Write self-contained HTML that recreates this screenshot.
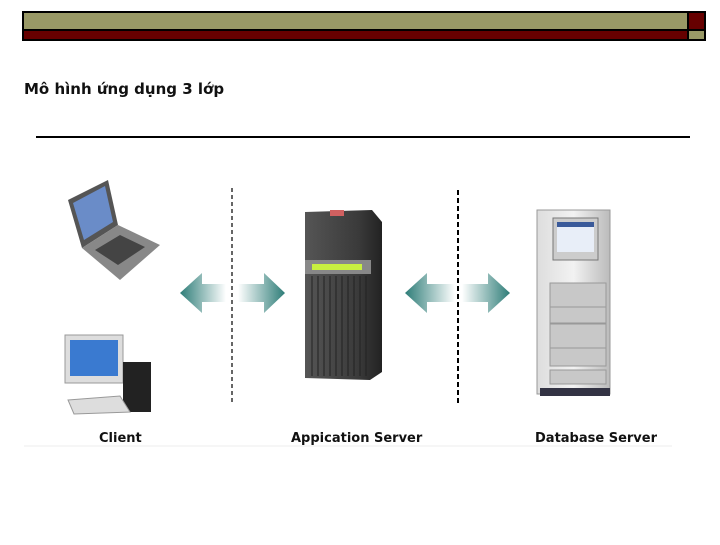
<!DOCTYPE html>
<html><head><meta charset="utf-8"><style>
body{margin:0;width:720px;height:540px;background:#fff;overflow:hidden}
text{font-family:"DejaVu Sans","Liberation Sans",sans-serif;font-weight:bold}
</style></head><body>
<svg width="720" height="540" viewBox="0 0 720 540" xmlns="http://www.w3.org/2000/svg">
<defs>
<linearGradient id="gl" x1="0" x2="1"><stop offset="0" stop-color="#2e7d78"/><stop offset="1" stop-color="#fff"/></linearGradient>
<linearGradient id="gr" x1="0" x2="1"><stop offset="0" stop-color="#fff"/><stop offset="1" stop-color="#2e7d78"/></linearGradient>
<linearGradient id="srv" x1="0" x2="1"><stop offset="0" stop-color="#555"/><stop offset="0.7" stop-color="#3a3a3a"/><stop offset="1" stop-color="#222"/></linearGradient>
<linearGradient id="rack" x1="0" x2="1"><stop offset="0" stop-color="#ddd"/><stop offset="0.5" stop-color="#f2f2f2"/><stop offset="1" stop-color="#bbb"/></linearGradient>
</defs>
<!-- header bar -->
<rect x="22" y="11" width="684" height="30" fill="#000"/>
<rect x="24" y="13" width="663" height="16" fill="#999966"/>
<rect x="24" y="31" width="663" height="8" fill="#660000"/>
<rect x="689" y="13" width="15" height="16" fill="#660000"/>
<rect x="689" y="31" width="15" height="8" fill="#999966"/>
<text x="24" y="94" font-size="15" fill="#111">Mô hình ứng dụng 3 lớp</text>
<line x1="36" y1="137" x2="690" y2="137" stroke="#000" stroke-width="2"/>
<!-- dashed lines -->
<line x1="232" y1="188" x2="232" y2="402" stroke="#000" stroke-width="1.2" stroke-dasharray="4,3"/>
<line x1="458" y1="190" x2="458" y2="406" stroke="#000" stroke-width="2" stroke-dasharray="5,3"/>
<!-- arrows -->
<polygon points="180,293 202,273 202,284 226,284 226,302 202,302 202,313" fill="url(#gl)"/>
<polygon points="238,284 264,284 264,273 285,293 264,313 264,302 238,302" fill="url(#gr)"/>
<polygon points="405,293 427,273 427,284 455,284 455,302 427,302 427,313" fill="url(#gl)"/>
<polygon points="462,284 488,284 488,273 510,293 488,313 488,302 462,302" fill="url(#gr)"/>
<!-- app server -->
<polygon points="305,212 372,210 382,222 382,372 370,380 305,378" fill="url(#srv)"/>
<rect x="330" y="210" width="14" height="6" fill="#d06060"/>
<rect x="305" y="260" width="66" height="14" fill="#888"/>
<rect x="312" y="264" width="50" height="6" fill="#c8f040"/>
<g stroke="#222" stroke-width="1">
<line x1="312" y1="276" x2="312" y2="376"/><line x1="318" y1="276" x2="318" y2="376"/><line x1="324" y1="276" x2="324" y2="376"/><line x1="330" y1="276" x2="330" y2="376"/><line x1="336" y1="276" x2="336" y2="376"/><line x1="342" y1="276" x2="342" y2="376"/><line x1="348" y1="276" x2="348" y2="376"/><line x1="354" y1="276" x2="354" y2="376"/><line x1="360" y1="276" x2="360" y2="376"/><line x1="366" y1="276" x2="366" y2="376"/>
</g>
<!-- db rack -->
<rect x="537" y="210" width="73" height="184" fill="url(#rack)" stroke="#999"/>
<rect x="553" y="218" width="45" height="42" fill="#ccc" stroke="#777"/>
<rect x="557" y="222" width="37" height="30" fill="#e8eef8"/>
<rect x="557" y="222" width="37" height="5" fill="#3a5a9a"/>
<g fill="#c8c8c8" stroke="#999"><rect x="550" y="283" width="56" height="24"/><rect x="550" y="307" width="56" height="16"/><rect x="550" y="324" width="56" height="24"/><rect x="550" y="348" width="56" height="18"/><rect x="550" y="370" width="56" height="14"/></g>
<rect x="540" y="388" width="70" height="8" fill="#334"/>
<!-- laptop -->
<polygon points="68,200 108,180 118,225 82,248" fill="#555"/>
<polygon points="73,203 105,186 113,222 84,240" fill="#6a8cc8"/>
<polygon points="82,248 118,225 160,245 120,280" fill="#888"/>
<polygon points="95,250 120,235 145,247 118,265" fill="#444"/>
<!-- desktop -->
<rect x="65" y="335" width="58" height="48" fill="#ddd" stroke="#999"/>
<rect x="70" y="340" width="48" height="36" fill="#3a7ad0"/>
<rect x="123" y="362" width="28" height="50" fill="#222"/>
<polygon points="68,400 120,396 130,412 74,414" fill="#ddd" stroke="#999"/>
<!-- labels -->
<text x="99" y="442" font-size="13" fill="#111">Client</text>
<text x="291" y="442" font-size="13" fill="#111">Appication Server</text>
<text x="535" y="442" font-size="13" fill="#111">Database Server</text>
<line x1="24" y1="446" x2="672" y2="446" stroke="#eee" stroke-width="1"/>
</svg>
</body></html>
